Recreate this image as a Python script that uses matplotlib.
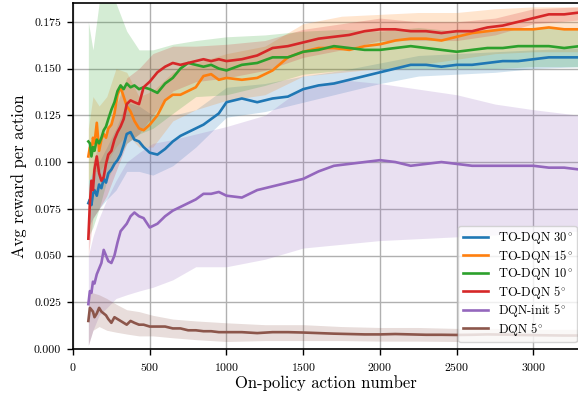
import matplotlib
matplotlib.use("Agg")
import matplotlib.pyplot as plt

plt.rcParams['font.family'] = ['cmr10', 'DejaVu Serif']
plt.rcParams['mathtext.fontset'] = 'cm'
plt.rcParams['axes.formatter.use_mathtext'] = True

# on-policy action number
steps = [100, 110, 120, 130, 140, 155, 170, 185, 200, 215, 230, 250, 270, 290,
         310, 330, 350, 375, 400, 430, 460, 500, 550, 600, 650, 700, 750, 800,
         850, 900, 950, 1000, 1100, 1200, 1300, 1400, 1500, 1600, 1700, 1800,
         1900, 2000, 2100, 2200, 2300, 2400, 2500, 2600, 2700, 2800, 2900, 3000,
         3100, 3200, 3300]

todqn30 = [0.078, 0.080, 0.077, 0.083, 0.085, 0.082, 0.088, 0.086, 0.091, 0.089,
           0.094, 0.096, 0.099, 0.101, 0.104, 0.109, 0.115, 0.116, 0.112, 0.111,
           0.108, 0.105, 0.104, 0.107, 0.111, 0.114, 0.116, 0.118, 0.120, 0.123,
           0.126, 0.132, 0.134, 0.132, 0.134, 0.135, 0.139, 0.141, 0.142, 0.144,
           0.146, 0.148, 0.150, 0.152, 0.152, 0.151, 0.152, 0.152, 0.153, 0.154,
           0.154, 0.155, 0.156, 0.156, 0.156]
todqn15 = [0.103, 0.108, 0.104, 0.113, 0.110, 0.121, 0.106, 0.112, 0.115, 0.113,
           0.118, 0.120, 0.126, 0.136, 0.140, 0.135, 0.130, 0.127, 0.122, 0.118,
           0.117, 0.120, 0.125, 0.133, 0.136, 0.136, 0.138, 0.140, 0.146, 0.147,
           0.144, 0.145, 0.144, 0.145, 0.149, 0.156, 0.159, 0.161, 0.161, 0.160,
           0.162, 0.163, 0.165, 0.166, 0.166, 0.165, 0.167, 0.169, 0.170, 0.171,
           0.171, 0.171, 0.172, 0.171, 0.171]
todqn10 = [0.111, 0.110, 0.103, 0.108, 0.106, 0.112, 0.110, 0.113, 0.117, 0.119,
           0.123, 0.128, 0.132, 0.138, 0.141, 0.139, 0.142, 0.140, 0.141, 0.139,
           0.140, 0.139, 0.137, 0.142, 0.145, 0.150, 0.153, 0.152, 0.151, 0.152,
           0.150, 0.149, 0.152, 0.153, 0.156, 0.156, 0.159, 0.160, 0.162, 0.161,
           0.160, 0.160, 0.161, 0.162, 0.161, 0.160, 0.159, 0.160, 0.161, 0.161,
           0.162, 0.162, 0.162, 0.161, 0.162]
todqn5 = [0.059, 0.078, 0.090, 0.085, 0.096, 0.103, 0.094, 0.090, 0.092, 0.099,
          0.104, 0.106, 0.112, 0.116, 0.119, 0.123, 0.131, 0.133, 0.132, 0.131,
          0.140, 0.143, 0.148, 0.151, 0.153, 0.152, 0.153, 0.154, 0.155, 0.154,
          0.155, 0.154, 0.155, 0.157, 0.161, 0.162, 0.164, 0.166, 0.167, 0.168,
          0.170, 0.171, 0.171, 0.170, 0.170, 0.169, 0.170, 0.170, 0.172, 0.173,
          0.175, 0.177, 0.179, 0.179, 0.180]
dqninit5 = [0.024, 0.031, 0.030, 0.036, 0.035, 0.040, 0.043, 0.046, 0.053, 0.050,
            0.047, 0.046, 0.050, 0.057, 0.063, 0.065, 0.067, 0.071, 0.073, 0.071,
            0.070, 0.065, 0.067, 0.071, 0.074, 0.076, 0.078, 0.080, 0.083, 0.083,
            0.084, 0.082, 0.081, 0.085, 0.087, 0.089, 0.091, 0.095, 0.098, 0.099,
            0.100, 0.101, 0.100, 0.098, 0.099, 0.100, 0.099, 0.098, 0.098, 0.098,
            0.098, 0.098, 0.097, 0.097, 0.096]
dqn5 = [0.015, 0.022, 0.021, 0.020, 0.017, 0.019, 0.022, 0.020, 0.019, 0.018,
        0.016, 0.014, 0.017, 0.016, 0.015, 0.014, 0.013, 0.015, 0.014, 0.013,
        0.013, 0.012, 0.012, 0.012, 0.011, 0.011, 0.010, 0.010, 0.0095, 0.0095,
        0.009, 0.009, 0.009, 0.0085, 0.009, 0.009, 0.0088, 0.0085, 0.0082, 0.008,
        0.0078, 0.0078, 0.008, 0.0078, 0.0076, 0.0076, 0.0075, 0.0076, 0.0078, 0.0077,
        0.0075, 0.0074, 0.0073, 0.0072, 0.0072]

# spread across runs (lower / upper)
band_steps = [100, 130, 170, 220, 280, 350, 430, 520, 650, 800, 1000, 1250, 1500,
              1750, 2000, 2250, 2500, 2750, 3000, 3300]
todqn30_lo = [0.065, 0.070, 0.075, 0.080, 0.085, 0.095, 0.095, 0.093, 0.098, 0.108,
              0.124, 0.127, 0.132, 0.137, 0.142, 0.146, 0.147, 0.148, 0.150, 0.151]
todqn30_hi = [0.090, 0.095, 0.100, 0.108, 0.118, 0.132, 0.130, 0.125, 0.125, 0.128,
              0.140, 0.142, 0.146, 0.149, 0.153, 0.157, 0.158, 0.159, 0.160, 0.161]
todqn15_lo = [0.090, 0.095, 0.095, 0.100, 0.108, 0.115, 0.108, 0.108, 0.122, 0.128,
              0.133, 0.136, 0.146, 0.148, 0.150, 0.152, 0.155, 0.158, 0.159, 0.159]
todqn15_hi = [0.118, 0.135, 0.130, 0.135, 0.150, 0.148, 0.135, 0.138, 0.148, 0.153,
              0.158, 0.162, 0.174, 0.178, 0.179, 0.180, 0.180, 0.182, 0.183, 0.183]
todqn10_lo = [0.060, 0.065, 0.075, 0.090, 0.100, 0.110, 0.115, 0.118, 0.126, 0.135,
              0.136, 0.141, 0.147, 0.149, 0.150, 0.150, 0.150, 0.150, 0.151, 0.151]
todqn10_hi = [0.175, 0.160, 0.185, 0.190, 0.185, 0.170, 0.160, 0.160, 0.163, 0.165,
              0.167, 0.168, 0.170, 0.171, 0.170, 0.172, 0.170, 0.171, 0.172, 0.172]
todqn5_lo = [0.050, 0.070, 0.075, 0.082, 0.095, 0.110, 0.115, 0.125, 0.138, 0.143,
             0.145, 0.149, 0.156, 0.160, 0.165, 0.165, 0.165, 0.168, 0.174, 0.176]
todqn5_hi = [0.070, 0.100, 0.110, 0.115, 0.130, 0.145, 0.150, 0.158, 0.162, 0.162,
             0.163, 0.165, 0.171, 0.174, 0.177, 0.175, 0.175, 0.177, 0.182, 0.183]
dqninit5_lo = [0.002, 0.010, 0.018, 0.022, 0.027, 0.029, 0.031, 0.033, 0.037, 0.044,
               0.044, 0.048, 0.054, 0.056, 0.058, 0.059, 0.060, 0.061, 0.062, 0.063]
dqninit5_hi = [0.050, 0.060, 0.070, 0.080, 0.090, 0.100, 0.105, 0.110, 0.112, 0.115,
               0.119, 0.125, 0.140, 0.144, 0.142, 0.139, 0.136, 0.131, 0.128, 0.125]
dqn5_lo = [0.002, 0.010, 0.012, 0.010, 0.009, 0.008, 0.007, 0.007, 0.006, 0.005,
           0.004, 0.0045, 0.0045, 0.0045, 0.0042, 0.0042, 0.004, 0.004, 0.004, 0.0038]
dqn5_hi = [0.030, 0.030, 0.029, 0.027, 0.024, 0.021, 0.020, 0.018, 0.016, 0.015,
           0.014, 0.013, 0.013, 0.012, 0.0115, 0.0115, 0.011, 0.011, 0.0105, 0.0105]

labels = [r'TO-DQN $30^{\!\circ}$', r'TO-DQN $15^{\!\circ}$', r'TO-DQN $10^{\!\circ}$',
          r'TO-DQN $5^{\!\circ}$', r'DQN-init $5^{\!\circ}$', r'DQN $5^{\!\circ}$']
colors = ['tab:blue', 'tab:orange', 'tab:green', 'tab:red', 'tab:purple', 'tab:brown']
means = [todqn30, todqn15, todqn10, todqn5, dqninit5, dqn5]
lows = [todqn30_lo, todqn15_lo, todqn10_lo, todqn5_lo, dqninit5_lo, dqn5_lo]
highs = [todqn30_hi, todqn15_hi, todqn10_hi, todqn5_hi, dqninit5_hi, dqn5_hi]

fig = plt.figure(figsize=(5.78, 3.93), dpi=100)
ax = fig.add_axes([0.1263, 0.112, 0.8737, 0.880])

for lo, hi, c in zip(lows, highs, colors):
    ax.fill_between(band_steps, lo, hi, color=c, alpha=0.2, lw=0)
for m, c, lab in zip(means, colors, labels):
    ax.plot(steps, m, color=c, lw=1.9, label=lab)

ax.set_xlim(0, 3290)
ax.set_ylim(0, 0.185)
ax.set_xticks([0, 500, 1000, 1500, 2000, 2500, 3000])
ax.set_yticks([0, 0.025, 0.05, 0.075, 0.1, 0.125, 0.15, 0.175])
ax.set_yticklabels(['0.000', '0.025', '0.050', '0.075', '0.100', '0.125', '0.150', '0.175'])
ax.grid(color='#b0b0b0', lw=1)
ax.set_axisbelow(True)
ax.spines['right'].set_visible(False)
for s in ['left', 'bottom', 'top']:
    ax.spines[s].set_linewidth(1.2)
ax.tick_params(labelsize=8.5, length=4, width=1, pad=4.5)

ax.set_xlabel("On-policy action number", fontsize=12, labelpad=2)
ax.set_ylabel("Avg reward per action", fontsize=12, labelpad=5)
ax.legend(loc='lower right', bbox_to_anchor=(0.998, 0.02), borderaxespad=0,
          fontsize=9, handlelength=2.0, labelspacing=0.12, borderpad=0.35)

plt.savefig('out.png', dpi=100)
